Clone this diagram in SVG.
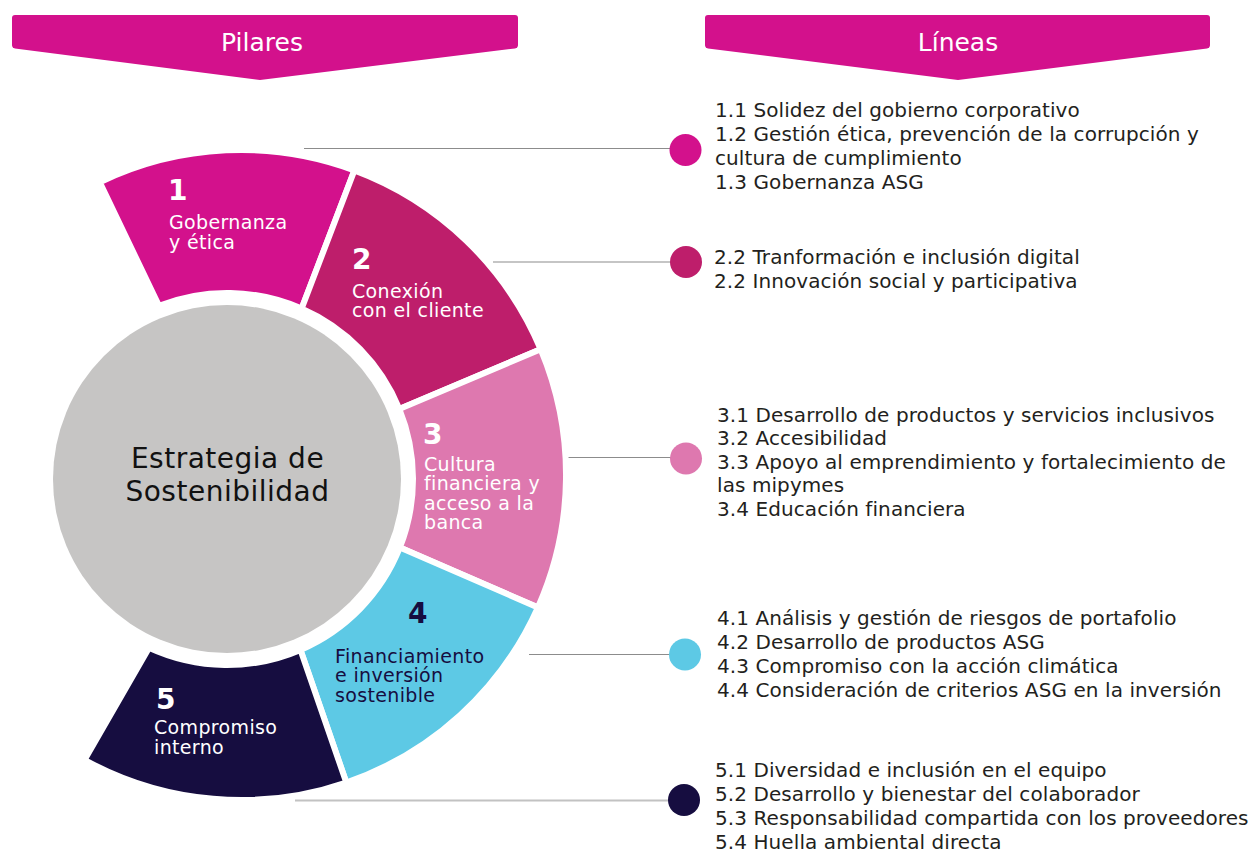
<svg xmlns="http://www.w3.org/2000/svg" width="1251" height="852" viewBox="0 0 1251 852">
<style>
.banner{fill:#D3118C}
.btxt{font-family:"DejaVu Sans",sans-serif;font-size:25px;fill:#fff;text-anchor:middle}
.seg{stroke:#fff;stroke-width:6;stroke-linejoin:miter}
.num{font-family:"DejaVu Sans",sans-serif;font-size:28px;font-weight:bold}
.lbl{font-family:"DejaVu Sans",sans-serif;font-size:19px;letter-spacing:0.35px}
.w{fill:#fff}
.n{fill:#160D40}
.line{font-family:"DejaVu Sans",sans-serif;font-size:20px;fill:#231F20;letter-spacing:0.08px}
.conn{stroke:#8C8C8C;stroke-width:1.2;fill:none}
.ctr{font-family:"DejaVu Sans",sans-serif;font-size:28px;fill:#111;text-anchor:middle;letter-spacing:0.5px}
</style>
<g id="banner-pilares">
<path class="banner" d="M15,15 H515 Q518,15 518,18 V45 Q518,48 515,48.4 L260,80 L15,48.4 Q12,48 12,45 V18 Q12,15 15,15 Z"/>
<text class="btxt" x="262" y="51">Pilares</text>
</g>
<g id="banner-lineas">
<path class="banner" d="M708,15 H1207 Q1210,15 1210,18 V45 Q1210,48 1207,48.4 L958,80 L708,48.4 Q705,48 705,45 V18 Q705,15 708,15 Z"/>
<text class="btxt" x="958" y="51">Líneas</text>
</g>
<g id="connectors">
<line class="conn" x1="304" y1="148.5" x2="672" y2="148.5"/>
<line class="conn" x1="493" y1="262" x2="672" y2="262"/>
<line class="conn" x1="567" y1="457.5" x2="672" y2="457.5"/>
<line class="conn" x1="529" y1="654.5" x2="672" y2="654.5"/>
<line x1="295" y1="800.5" x2="670" y2="800.5" stroke="#C2C2C2" stroke-width="2"/>
</g>
<g id="center">
<circle cx="227" cy="479" r="174" fill="#C6C5C4"/>
<text class="ctr" x="227.5" y="467.5">Estrategia de</text>
<text class="ctr" x="227.5" y="500.5">Sostenibilidad</text>
</g>
<g id="pilar-1">
<path class="seg" fill="#D3118C" d="M159,305.8 L99.8,182.3 A325,325 0 0 1 354.4,170.4 L301.6,308.6 A186,186 0 0 0 159,305.8 Z"/>
<text class="num w" x="168" y="200">1</text>
<text class="lbl w" x="169" y="229">Gobernanza</text>
<text class="lbl w" x="169" y="249">y ética</text>
</g>
<g id="pilar-2">
<path class="seg" fill="#BE1E6B" d="M301.6,308.6 L354.4,170.4 A325,325 0 0 1 540.7,349.3 L399.3,408.9 A186,186 0 0 0 301.6,308.6 Z"/>
<text class="num w" x="352" y="269">2</text>
<text class="lbl w" x="352" y="297.5">Conexión</text>
<text class="lbl w" x="352" y="317">con el cliente</text>
</g>
<g id="pilar-3">
<path class="seg" fill="#DE78AF" d="M399.3,408.9 L540.7,349.3 A325,325 0 0 1 537.9,607.4 L399.9,547.5 A186,186 0 0 0 399.3,408.9 Z"/>
<text class="num w" x="423" y="444">3</text>
<text class="lbl w" x="424" y="470.5">Cultura</text>
<text class="lbl w" x="424" y="490">financiera y</text>
<text class="lbl w" x="424" y="509.5">acceso a la</text>
<text class="lbl w" x="424" y="529">banca</text>
</g>
<g id="pilar-4">
<path class="seg" fill="#5DC9E5" d="M399.9,547.5 L537.9,607.4 A325,325 0 0 1 346.3,782.5 L300.5,649.9 A186,186 0 0 0 399.9,547.5 Z"/>
<text class="num n" x="408" y="623">4</text>
<text class="lbl n" x="335" y="662.5">Financiamiento</text>
<text class="lbl n" x="335" y="682">e inversión</text>
<text class="lbl n" x="335" y="701.5">sostenible</text>
</g>
<g id="pilar-5">
<path class="seg" fill="#160D40" d="M300.5,649.9 L346.3,782.5 A325,325 0 0 1 84.5,759.9 L148.95,647.9 A186,186 0 0 0 300.5,649.9 Z"/>
<text class="num w" x="156" y="709">5</text>
<text class="lbl w" x="154" y="734">Compromiso</text>
<text class="lbl w" x="154" y="754">interno</text>
</g>
<g id="lineas-1">
<circle cx="685.5" cy="150" r="16" fill="#D3118C"/>
<text class="line" x="715" y="117">1.1 Solidez del gobierno corporativo</text>
<text class="line" x="715" y="141">1.2 Gestión ética, prevención de la corrupción y</text>
<text class="line" x="715" y="165">cultura de cumplimiento</text>
<text class="line" x="715" y="189">1.3 Gobernanza ASG</text>
</g>
<g id="lineas-2">
<circle cx="686" cy="262" r="16" fill="#BE1E6B"/>
<text class="line" x="714" y="264">2.2 Tranformación e inclusión digital</text>
<text class="line" x="714" y="288">2.2 Innovación social y participativa</text>
</g>
<g id="lineas-3">
<circle cx="686" cy="458.5" r="16" fill="#DE78AF"/>
<text class="line" x="717" y="421.5">3.1 Desarrollo de productos y servicios inclusivos</text>
<text class="line" x="717" y="445">3.2 Accesibilidad</text>
<text class="line" x="717" y="468.5">3.3 Apoyo al emprendimiento y fortalecimiento de</text>
<text class="line" x="717" y="492">las mipymes</text>
<text class="line" x="717" y="515.5">3.4 Educación financiera</text>
</g>
<g id="lineas-4">
<circle cx="685" cy="654.5" r="16" fill="#5DC9E5"/>
<text class="line" x="717" y="625">4.1 Análisis y gestión de riesgos de portafolio</text>
<text class="line" x="717" y="649">4.2 Desarrollo de productos ASG</text>
<text class="line" x="717" y="673">4.3 Compromiso con la acción climática</text>
<text class="line" x="717" y="697">4.4 Consideración de criterios ASG en la inversión</text>
</g>
<g id="lineas-5">
<circle cx="684" cy="800" r="16" fill="#160D40"/>
<text class="line" x="715" y="777">5.1 Diversidad e inclusión en el equipo</text>
<text class="line" x="715" y="801">5.2 Desarrollo y bienestar del colaborador</text>
<text class="line" x="715" y="825">5.3 Responsabilidad compartida con los proveedores</text>
<text class="line" x="715" y="849">5.4 Huella ambiental directa</text>
</g>
</svg>
